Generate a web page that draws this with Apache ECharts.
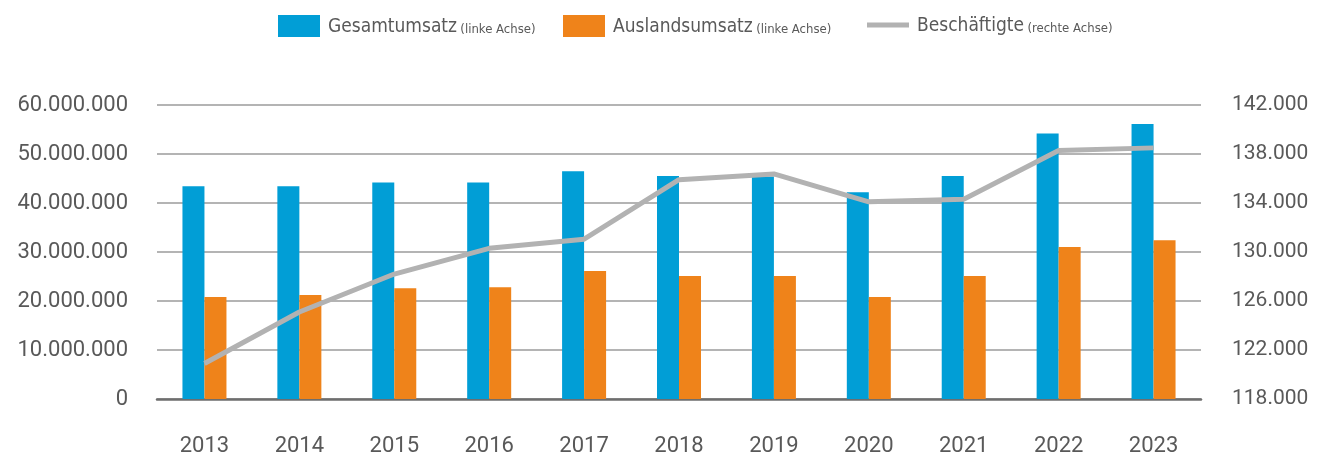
<!DOCTYPE html>
<html>
<head>
<meta charset="utf-8">
<script src="https://cdn.jsdelivr.net/npm/echarts@6/dist/echarts.min.js"></script>
<style>
html,body{margin:0;padding:0;background:#fff;}
#chart{width:1317px;height:457px;}
</style>
</head>
<body>
<div id="chart"></div>
<script>
const years = ['2013','2014','2015','2016','2017','2018','2019','2020','2021','2022','2023'];
const gesamtumsatz = [43400000, 43400000, 44200000, 44200000, 46500000, 45500000, 45400000, 42200000, 45500000, 54200000, 56100000];
const auslandsumsatz = [20800000, 21200000, 22600000, 22800000, 26100000, 25100000, 25100000, 20800000, 25100000, 31000000, 32400000];
const beschaeftigte = [120900, 125100, 128200, 130300, 131050, 135900, 136370, 134100, 134300, 138280, 138500];
const rightTicks = [118000, 122000, 126000, 130000, 134000, 138000, 142000];

function de(v){ return String(Math.round(v)).replace(/\B(?=(\d{3})+(?!\d))/g, '.'); }

const txt = '#595959';
const legFont = '"DejaVu Sans Condensed", "Liberation Sans Narrow", sans-serif';
const numFont = 'Roboto, "Noto Sans", sans-serif';
function legendCfg(name, left, top, main, sub, w, h){
  return {
    data:[name], left:left, top:top, padding:0,
    itemWidth:w, itemHeight:h, icon:'rect',
    formatter: function(){ return '{a|' + main + '} {b|' + sub + '}'; },
    textStyle:{
      padding:[0,0,0,3],
      rich:{
        a:{fontFamily:legFont, fontSize:19, color:txt, lineHeight:22, verticalAlign:'bottom'},
        b:{fontFamily:legFont, fontSize:13, color:txt, lineHeight:22, verticalAlign:'bottom', padding:[0,0,1,0]}
      }
    }
  };
}

const chart = echarts.init(document.getElementById('chart'));
chart.setOption({
  animation:false,
  backgroundColor:'#fff',
  legend:[
    legendCfg('Gesamtumsatz', 278, 15, 'Gesamtumsatz', '(linke Achse)', 42, 22),
    legendCfg('Auslandsumsatz', 563, 15, 'Auslandsumsatz', '(linke Achse)', 42, 22),
    legendCfg('Beschäftigte', 867, 17, 'Beschäftigte', '(rechte Achse)', 42, 5)
  ],
  grid:{left:157, right:116, top:105, bottom:58, containLabel:false},
  xAxis:{
    type:'category', data:years,
    axisLine:{show:true, lineStyle:{color:'#6e6e6e', width:2.5}},
    axisTick:{show:false},
    axisLabel:{color:txt, fontFamily:numFont, fontSize:22, margin:36}
  },
  yAxis:[
    {
      type:'value', min:0, max:60000000, interval:10000000,
      axisLine:{show:false}, axisTick:{show:false},
      splitLine:{show:true, lineStyle:{color:'#b4b4b4', width:2}},
      axisLabel:{color:txt, fontFamily:numFont, fontSize:22, margin:29, formatter:de}
    },
    {
      type:'value', min:118000, max:142000, position:'right',
      axisLine:{show:false}, axisTick:{show:false},
      splitLine:{show:false},
      axisLabel:{color:txt, fontFamily:numFont, fontSize:21, margin:31, customValues:rightTicks, formatter:de}
    }
  ],
  series:[
    {name:'Gesamtumsatz', type:'bar', data:gesamtumsatz, barWidth:22, barGap:'0%', itemStyle:{color:'#019ed6'}, z:2},
    {name:'Auslandsumsatz', type:'bar', data:auslandsumsatz, barWidth:22, barGap:'0%', itemStyle:{color:'#ef831a'}, z:2},
    {name:'Beschäftigte', type:'line', yAxisIndex:1, data:beschaeftigte, showSymbol:false, symbol:'none',
     lineStyle:{color:'#b2b2b2', width:5}, itemStyle:{color:'#b2b2b2'}, z:5}
  ]
});
</script>
</body>
</html>
